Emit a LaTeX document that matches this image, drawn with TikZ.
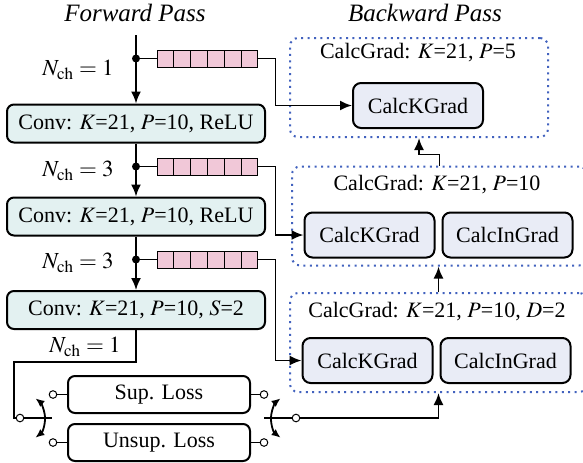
\documentclass[tikz,border=0pt]{standalone}
\usepackage{mathptmx}
\usepackage{fontspec}
\setmainfont{Liberation Serif}
\usetikzlibrary{arrows.meta}
\definecolor{convfill}{HTML}{E3F1F1}
\definecolor{gradfill}{HTML}{E9ECF6}
\definecolor{bufpink}{HTML}{F1C8D8}
\definecolor{groupblue}{HTML}{4262BE}

\tikzset{
  convbox/.style={draw, line width=1pt, rounded corners=3.5pt, fill=convfill,
    minimum width=129pt, minimum height=19pt, inner sep=0pt},
  lossbox/.style={draw, line width=1pt, rounded corners=3.5pt, fill=white,
    minimum width=91pt, minimum height=18.5pt, inner sep=0pt},
  gradbox/.style={draw, line width=1pt, rounded corners=4pt, fill=gradfill,
    minimum width=65pt, minimum height=22.5pt, inner sep=0pt},
  groupbox/.style={draw=groupblue, line width=1pt, dash pattern=on 1pt off 2.2pt,
    rounded corners=4pt, minimum height=49.5pt, inner sep=0pt},
  cell/.style={draw, line width=0.5pt, fill=bufpink, minimum width=8.4pt,
    minimum height=8.5pt, inner sep=0pt},
  wire/.style={line width=0.9pt},
  flow/.style={wire, -{Latex[length=6pt,width=5pt]}},
  swing/.style={wire, {Latex[length=4.5pt,width=3.8pt]}-{Latex[length=4.5pt,width=3.8pt]}},
  tap/.style={circle, fill, inner sep=0pt, minimum size=4pt},
  term/.style={circle, draw, fill=white, line width=0.5pt, inner sep=0pt, minimum size=3.8pt},
  passtitle/.style={font=\fontsize{12.5}{14}\selectfont\itshape},
  chlabel/.style={font=\fontsize{11.5}{13}\selectfont},
}

\begin{document}
\begin{tikzpicture}[x=0.5pt, y=-0.5pt, font=\fontsize{11}{13}\selectfont]
\useasboundingbox (0,0) rectangle (583,462);

\node[passtitle] (fwd) at (135,13) {Forward Pass};
\node[passtitle] (bwd) at (425,13) {Backward Pass};

% forward layers
\coordinate (in) at (136,35);
\node[convbox] (conv1) at (136,123.5) {Conv: $K$=21, $P$=10, ReLU};
\node[convbox] (conv2) at (136,216.5) {Conv: $K$=21, $P$=10, ReLU};
\node[convbox] (conv3) at (136,310) {Conv: $K$=21, $P$=10, $S$=2};

\node[chlabel] (nch1) at (78,70) {$N_\mathrm{ch}=1$};
\node[chlabel] (nch2) at (78,171) {$N_\mathrm{ch}=3$};
\node[chlabel] (nch3) at (78,263) {$N_\mathrm{ch}=3$};
\node[chlabel] (nch4) at (85,347) {$N_\mathrm{ch}=1$};

\draw[flow] (in) -- (conv1.north);
\draw[flow] (conv1.south) -- (conv2.north);
\draw[flow] (conv2.south) -- (conv3.north);

% stored activations
\foreach \row/\y in {1/58.5, 2/166.5, 3/259.5} {
  \node[tap] (tap\row) at (136,\y) {};
  \foreach \i in {1,...,6}
    \node[cell] (buf\row-\i) at (157+16.83*\i-8.4,\y) {};
  \draw[wire] (tap\row) -- (buf\row-1.west);
}

% backward groups
\node[groupbox, minimum width=129pt] (groupT) at (419,87.5) {};
\node[groupbox, minimum width=147.5pt] (groupM) at (439.5,216) {};
\node[groupbox, minimum width=148.5pt] (groupB) at (438.5,342.5) {};

\node (titleT) at (418,53) {CalcGrad: $K$=21, $P$=5};
\node (titleM) at (437,185) {CalcGrad: $K$=21, $P$=10};
\node (titleB) at (437,312) {CalcGrad: $K$=21, $P$=10, $D$=2};

\node[gradbox] (kgradT) at (418,105.5) {CalcKGrad};
\node[gradbox] (kgradM) at (369.5,235) {CalcKGrad};
\node[gradbox] (ingradM) at (507.5,235) {CalcInGrad};
\node[gradbox] (kgradB) at (367.5,360.5) {CalcKGrad};
\node[gradbox] (ingradB) at (505.5,360.5) {CalcInGrad};

\draw[flow] (buf1-6.east) -- ++(17,0) |- (kgradT.west);
\draw[flow] (buf2-6.east) -- ++(17,0) |- (kgradM.west);
\draw[flow] (buf3-6.east) -- ++(17,0) |- (kgradB.west);

\draw[flow] (groupM.north) -- ++(0,-11) -| (groupT.south);
\draw[flow] (groupB.north) -- (groupB.north |- groupM.south);

% losses and switches
\node[lossbox] (sup) at (159,394.5) {Sup. Loss};
\node[lossbox] (unsup) at (159,442.5) {Unsup. Loss};

\node[term] (supL) at (53,394.5) {};
\node[term] (supR) at (264,394.5) {};
\node[term] (unsupL) at (53,442.5) {};
\node[term] (unsupR) at (264,442.5) {};
\draw[wire] (supL) -- (sup.west);
\draw[wire] (unsupL) -- (unsup.west);
\draw[wire] (sup.east) -- (supR);
\draw[wire] (unsup.east) -- (unsupR);

\coordinate (bendL) at (14,362);
\coordinate (bladeL) at (52,418);
\coordinate (bladeR) at (264,418);
\node[term] (pivotL) at (20,418) {};
\node[term] (pivotR) at (296,418) {};

\draw[wire] (conv3.south) |- (bendL) |- (pivotL.west);
\draw[wire] (pivotL.east) -- (bladeL);
\draw[swing] (pivotL) ++(52:25) arc (52:-52:25);

\draw[wire] (bladeR) -- (pivotR.west);
\draw[swing] (pivotR) ++(128:25) arc (128:232:25);
\draw[flow] (pivotR.east) -| (groupB.south);

\end{tikzpicture}
\end{document}
